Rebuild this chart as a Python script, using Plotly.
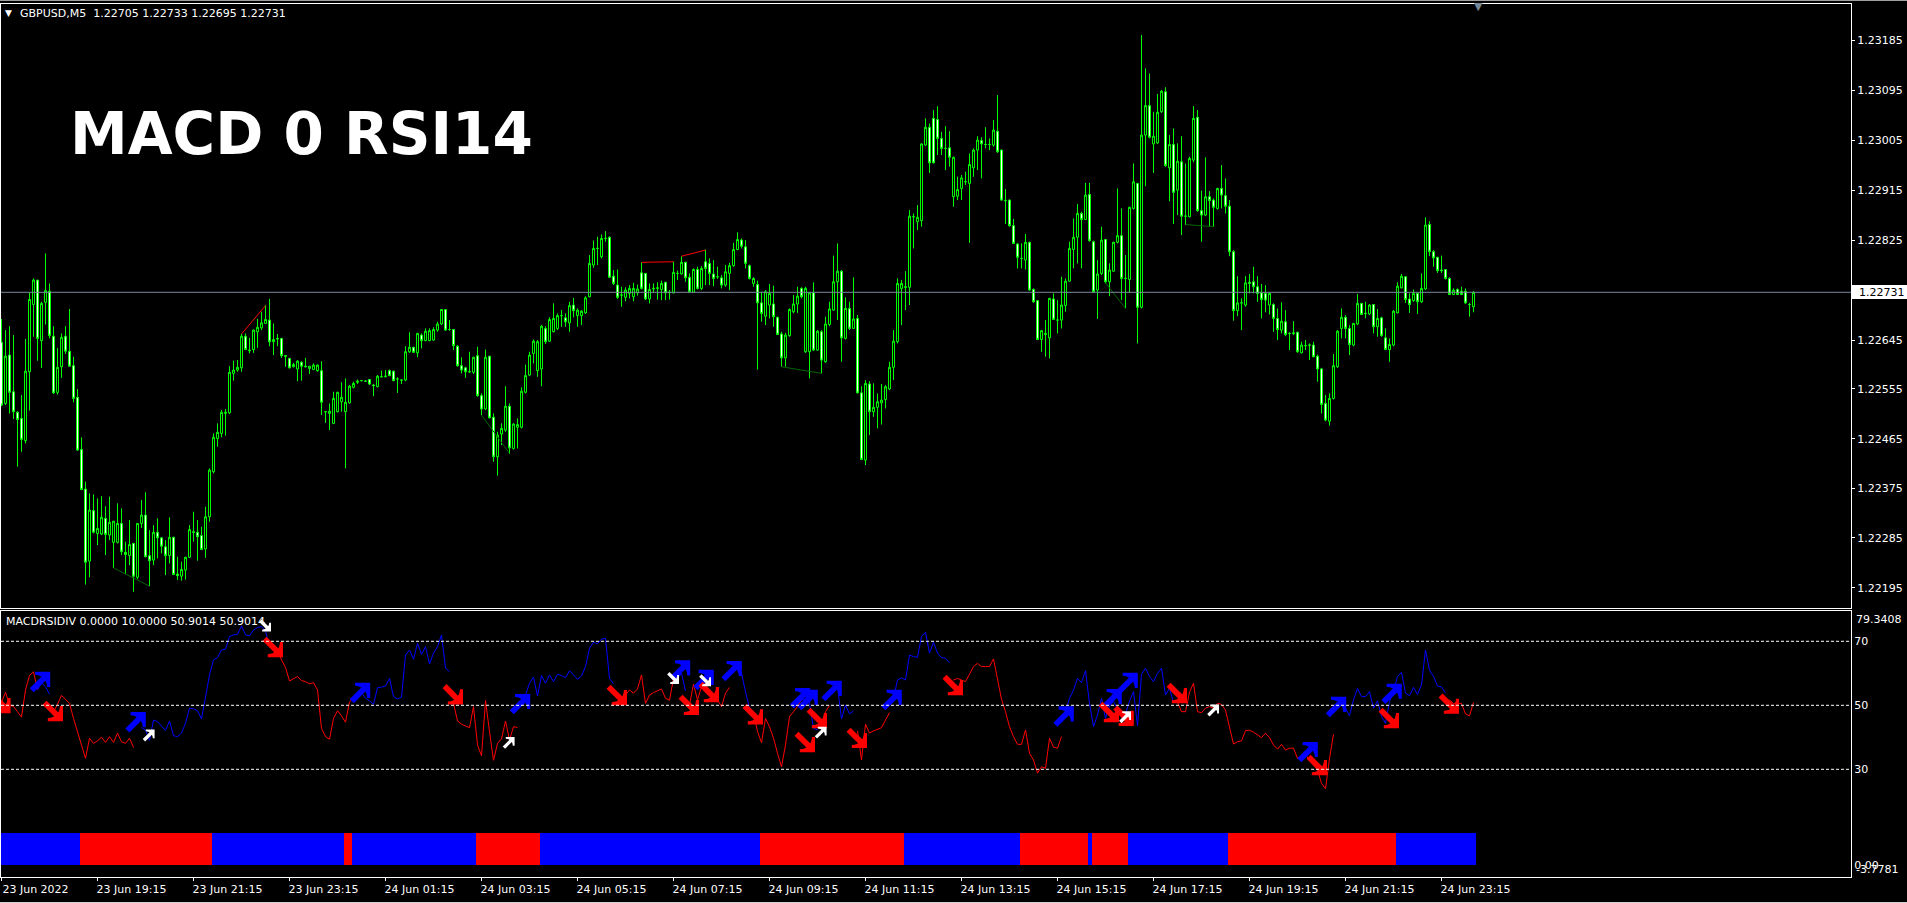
import plotly.graph_objects as go

PRICE_SCALE = 100000.0
opens = [122641,122531,122618,122552,122515,122504,122464,122588,122709,122753,
122644,122713,122733,122652,122551,122597,122652,122625,122599,122542,
122448,122377,122247,122338,122297,122296,122324,122294,122281,122281,
122315,122263,122257,122279,122218,122315,122330,122257,122249,122299,
122289,122273,122257,122290,122224,122220,122231,122254,122300,122299,
122293,122269,122327,122408,122468,122477,122513,122514,122585,122591,
122595,122652,122627,122628,122660,122667,122675,122681,122642,122648,
122648,122617,122612,122597,122593,122605,122598,122594,122592,122590,
122590,122516,122513,122495,122516,122534,122516,122532,122560,122569,
122572,122571,122574,122564,122561,122579,122579,122590,122589,122575,
122573,122573,122624,122632,122622,122654,122644,122644,122645,122663,
122674,122700,122664,122664,122634,122599,122595,122588,122587,122617,
122545,122521,122616,122506,122435,122476,122483,122526,122450,122488,
122488,122551,122582,122621,122590,122593,122666,122643,122660,122666,
122689,122685,122676,122708,122689,122689,122694,122723,122780,122810,
122795,122828,122830,122760,122744,122726,122722,122729,122723,122730,
122766,122765,122719,122737,122738,122736,122749,122731,122730,122765,
122764,122785,122758,122731,122772,122738,122786,122783,122764,122759,
122757,122744,122765,122779,122808,122825,122813,122779,122747,122745,
122712,122688,122708,122710,122686,122656,122613,122653,122696,122710,
122738,122624,122624,122730,122627,122660,122606,122673,122699,122750,
122769,122648,122702,122666,122684,122550,122429,122566,122516,122524,
122532,122538,122557,122596,122642,122738,122741,122740,122867,122858,
122860,122996,123028,123044,123042,123008,122990,122991,122903,122904,
122918,122930,122927,122955,122987,123004,122997,122997,122996,123021,
122987,122896,122897,122851,122818,122792,122789,122821,122736,122716,
122646,122655,122649,122719,122681,122681,122707,122751,122808,122830,
122873,122862,122907,122822,122735,122765,122826,122750,122769,122821,
122833,122756,122754,122882,122927,122704,123014,123067,122998,123000,
123056,123092,122955,122997,122915,122966,122868,122867,122969,123046,
122878,122870,122903,122897,122882,122918,122905,122886,122804,122698,
122712,122708,122749,122750,122741,122730,122729,122708,122709,122684,
122663,122678,122657,122658,122659,122622,122635,122636,122636,122616,
122593,122531,122499,122540,122597,122666,122686,122666,122636,122674,
122711,122693,122692,122709,122669,122685,122649,122628,122636,122694,
122739,122759,122719,122716,122729,122714,122737,122853,122804,122794,
122771,122772,122756,122727,122736,122733,122733,122709,122705]
highs = [122683,122663,122670,122654,122517,122546,122647,122730,122756,122753,
122714,122801,122747,122670,122631,122657,122670,122701,122615,122557,
122470,122390,122369,122367,122360,122364,122346,122363,122319,122351,
122342,122282,122321,122280,122315,122357,122371,122303,122312,122324,
122290,122285,122326,122291,122255,122246,122255,122312,122336,122321,
122309,122345,122414,122477,122495,122519,122521,122598,122608,122609,
122656,122657,122649,122664,122683,122696,122708,122719,122675,122656,
122649,122617,122613,122604,122609,122607,122613,122598,122603,122601,
122607,122516,122531,122552,122552,122569,122576,122564,122570,122574,
122573,122573,122575,122566,122582,122590,122591,122592,122590,122578,
122574,122634,122659,122633,122658,122657,122666,122666,122668,122678,
122700,122700,122681,122665,122636,122614,122597,122624,122615,122633,
122549,122628,122616,122513,122480,122495,122562,122531,122495,122504,
122560,122601,122624,122646,122645,122672,122670,122686,122711,122693,
122699,122693,122714,122721,122702,122699,122724,122798,122824,122831,
122835,122841,122832,122771,122772,122741,122740,122744,122748,122745,
122785,122765,122747,122747,122749,122752,122750,122735,122786,122770,
122796,122786,122765,122774,122777,122778,122808,122792,122789,122777,
122762,122780,122784,122820,122839,122828,122825,122781,122758,122752,
122732,122735,122746,122743,122687,122660,122658,122702,122726,122741,
122740,122741,122731,122749,122663,122663,122687,122714,122797,122819,
122771,122722,122714,122758,122690,122562,122573,122571,122567,122549,
122566,122564,122606,122663,122756,122753,122769,122879,122873,122888,
122999,123044,123035,123059,123066,123020,123030,123021,122975,122939,
122942,122948,122981,122990,123012,123010,123028,123008,123041,123086,
122988,122917,122898,122863,122819,122819,122836,122822,122738,122717,
122663,122681,122721,122729,122717,122759,122756,122822,122864,122890,
122876,122928,122928,122824,122789,122849,122827,122783,122822,122918,
122882,122798,122885,122963,122928,123194,123134,123125,123056,123088,
123095,123100,123014,123026,122999,123012,122963,122975,123066,123059,
122914,122974,122913,122900,122919,122960,122936,122897,122807,122760,
122720,122760,122764,122777,122760,122746,122744,122731,122711,122702,
122713,122699,122659,122679,122660,122642,122645,122639,122642,122619,
122595,122546,122549,122620,122663,122702,122690,122672,122676,122728,
122712,122714,122710,122710,122701,122687,122666,122648,122699,122749,
122764,122760,122729,122736,122730,122765,122866,122859,122807,122795,
122797,122772,122758,122738,122738,122741,122738,122712,122733]
lows = [122526,122528,122513,122503,122417,122444,122459,122518,122651,122608,
122595,122673,122648,122548,122547,122577,122620,122597,122533,122446,
122375,122205,122218,122297,122276,122294,122258,122285,122235,122279,
122258,122224,122240,122192,122215,122307,122254,122202,122240,122252,
122261,122222,122243,122222,122213,122212,122214,122253,122282,122248,
122267,122253,122318,122405,122453,122470,122473,122512,122572,122588,
122588,122627,122621,122622,122631,122663,122675,122634,122618,122634,
122613,122597,122594,122596,122571,122572,122596,122584,122591,122588,
122510,122496,122483,122494,122515,122516,122414,122531,122558,122566,
122571,122570,122564,122544,122560,122578,122578,122580,122571,122550,
122566,122571,122622,122622,122614,122630,122643,122643,122644,122660,
122672,122662,122662,122627,122597,122585,122577,122586,122584,122543,
122510,122519,122504,122426,122401,122456,122480,122440,122448,122450,
122486,122549,122580,122603,122579,122562,122638,122642,122659,122663,
122669,122669,122660,122686,122669,122672,122692,122722,122775,122780,
122792,122822,122757,122744,122719,122705,122715,122720,122715,122725,
122736,122717,122711,122730,122718,122717,122717,122718,122729,122753,
122763,122750,122730,122730,122736,122735,122744,122744,122742,122755,
122738,122741,122735,122777,122807,122810,122774,122754,122741,122592,
122678,122672,122684,122669,122654,122597,122597,122651,122693,122694,
122720,122622,122576,122626,122626,122585,122604,122670,122698,122681,
122606,122646,122663,122665,122549,122429,122420,122474,122507,122486,
122493,122522,122555,122573,122639,122672,122699,122708,122810,122843,
122849,122995,122946,122963,122978,122978,122951,122957,122885,122897,
122897,122924,122820,122939,122951,122936,122990,122987,122993,122982,
122896,122854,122849,122818,122774,122774,122772,122734,122712,122645,
122624,122615,122612,122681,122657,122666,122696,122750,122774,122783,
122774,122861,122822,122730,122683,122762,122747,122724,122768,122819,
122717,122702,122730,122880,122639,122702,122922,123008,122946,122998,
123054,122957,122895,122854,122870,122834,122852,122866,122965,122876,
122822,122868,122849,122849,122880,122882,122873,122796,122680,122688,
122663,122705,122729,122729,122714,122684,122695,122691,122660,122645,
122657,122652,122627,122654,122622,122621,122627,122609,122614,122570,
122513,122499,122491,122538,122595,122648,122648,122618,122634,122672,
122690,122684,122690,122657,122651,122651,122627,122606,122634,122693,
122738,122712,122694,122714,122692,122712,122735,122796,122777,122766,
122766,122754,122726,122726,122726,122726,122710,122687,122695]
closes = [122528,122616,122551,122516,122502,122466,122589,122718,122753,122648,
122711,122734,122653,122550,122596,122650,122625,122598,122540,122447,
122376,122245,122339,122299,122306,122326,122295,122317,122319,122315,
122264,122259,122277,122220,122315,122330,122255,122248,122299,122289,
122274,122257,122290,122223,122221,122232,122254,122304,122299,122291,
122268,122327,122411,122470,122479,122515,122515,122587,122591,122596,
122652,122628,122626,122663,122668,122676,122682,122642,122646,122647,
122617,122616,122595,122601,122607,122598,122597,122598,122600,122600,
122533,122516,122517,122540,122551,122542,122533,122562,122567,122571,
122572,122571,122566,122563,122580,122579,122580,122581,122572,122575,
122573,122624,122632,122623,122657,122644,122661,122662,122664,122674,
122700,122663,122664,122635,122599,122591,122588,122588,122614,122545,
122521,122614,122505,122435,122474,122486,122526,122451,122494,122493,
122553,122581,122618,122643,122642,122670,122642,122682,122684,122689,
122689,122678,122707,122698,122699,122697,122721,122783,122810,122810,
122828,122828,122758,122747,122722,122726,122735,122738,122738,122737,
122738,122719,122736,122738,122739,122747,122730,122731,122767,122765,
122785,122757,122732,122772,122738,122774,122774,122765,122756,122759,
122744,122768,122779,122808,122826,122814,122783,122756,122756,122712,
122693,122732,122729,122687,122655,122613,122654,122700,122710,122724,
122723,122738,122730,122627,122661,122609,122674,122701,122750,122769,
122649,122702,122666,122683,122550,122430,122567,122516,122524,122534,
122537,122561,122596,122643,122747,122747,122740,122868,122867,122866,
122998,123028,122964,122964,123008,122990,122990,122974,122974,122916,
122937,122930,122961,122987,123005,122998,122997,122997,123023,122984,
122897,122896,122851,122819,122794,122792,122821,122735,122714,122646,
122662,122657,122720,122682,122681,122708,122751,122810,122830,122873,
122862,122906,122824,122732,122764,122825,122750,122771,122821,122833,
122756,122756,122884,122930,122704,123014,123067,123010,123012,123055,
123093,122959,122997,122911,122967,122868,122868,122972,123044,122878,
122870,122903,122896,122884,122918,122906,122886,122804,122698,122712,
122712,122748,122747,122741,122729,122718,122717,122729,122684,122664,
122679,122655,122657,122657,122624,122636,122635,122636,122615,122593,
122529,122501,122540,122599,122661,122686,122666,122637,122675,122711,
122691,122693,122708,122669,122684,122653,122628,122637,122697,122742,
122760,122718,122709,122729,122714,122738,122852,122804,122793,122770,
122770,122756,122727,122735,122727,122727,122712,122709,122731]
rsi = [50.9,54.1,50.1,49.6,48.0,46.3,54.8,59.3,60.5,54.8,
57,55.8,53.5,48,50.3,53.1,52,50.6,45.9,41.8,
38.1,33.4,39.7,38.1,38.9,40,38.4,40.2,38.4,41.3,
38.6,38.1,39.7,36.8,None,43,42.3,39,45.4,44.9,
43.6,42.1,45.1,40.5,40.2,41.3,44.4,49.1,48.9,48.3,
45.7,52.2,59.5,64.2,64.9,67.3,67.5,71.5,72,72.2,
74.8,72,71.7,73.5,74.3,74.6,73.2,68.3,67.8,67.3,
64.2,61.8,57.6,58.4,59,57.7,57.4,56.7,57.1,54.8,
42.8,40.2,39.4,45.9,48.3,46.7,44.7,51.1,52.2,53.2,
54,52.2,51.4,50.3,55.5,55.7,56,58.4,52.7,52,
52.5,65.7,67.3,64.4,69.4,65.9,68.3,62.9,66.3,68.3,
72,61.6,60.5,50.6,45.1,44.1,43.5,43,49.6,37.6,
34.2,51.5,41.8,32.8,38.1,39.5,45.1,39.2,43.3,43.1,
None,53.2,56.9,58.8,52.9,59.3,56.9,59.5,57.4,59.7,
59.3,58.6,60.8,59.5,58.1,59.2,62.1,67.8,69.7,69.2,
70.7,70.9,58.4,56.7,None,51.7,53.2,54.8,53.8,55.1,
59.5,50.6,53.2,54,54.5,55.1,52.2,51.6,58.4,58.5,
60,54.5,50.1,56.6,51.7,55.8,55.3,53.8,52.7,51.7,
49.6,53.8,55.6,None,60.5,60,54.3,49.1,48,41.8,
38.3,45.9,43.3,39.7,35,30.8,37.6,46.5,48,49.6,
51.7,52,50.6,42.8,42.3,44.4,48,49.9,None,55.8,
45.7,50.1,47.3,48.2,42,32.9,44.1,41.3,42,42.5,
43,45.4,47.7,52.2,57.9,58.6,57.9,65.7,65.2,65,
71.5,72.8,66.3,69.7,66.3,64.9,64.7,63.3,57.9,58.4,
57.9,57.4,59.7,62.1,63.1,62.1,62.1,62.1,64.5,57.9,
51.9,48,43.3,40.2,37.8,37.8,42.3,35,32.9,28.8,
30.8,30.3,39.7,36.9,36.6,40.2,48,52.2,54.8,58.4,
57.1,60.8,50.6,43.3,47,52.2,45.9,49.7,51.3,48.7,
46.7,47.2,51.3,54.3,43.6,59.7,61.6,59,57.4,60,
61.6,53.2,55.3,50.9,51.1,48,48,54.1,56.9,48,
47.7,49.1,49.6,49.1,50.6,50.3,48.5,42.8,37.9,38.6,
38.9,42.1,42.2,41.6,40.7,39.9,41.3,39.9,37.6,36.3,
37.8,36,36.6,36.6,33.4,34,34.5,32.9,31.4,29.8,
25.6,23.9,33.4,40.9,None,50.1,49.1,46.7,51.7,55.3,
52.7,52.7,54.3,49.1,51.4,46.5,44.4,51.2,54.3,59,
60.3,53.8,53,55.6,53.4,56.4,67.3,61,59,56,
55.8,53.8,51.7,50.6,50.6,50.6,47.3,46.7,50.9]
assert len(opens) == len(highs) == len(lows) == len(closes) == len(rsi) == 369

red_runs = [(0,9),(13,33),(68,89),(113,129),(155,168),(172,182),(188,200),(205,207),(214,222),(238,265),(294,333),(362,368)]
blue_runs = [(9,12),(35,67),(89,112),(131,153),(168,171),(184,187),(200,204),(209,213),(223,237),(266,293),(335,361)]

band_starts = [0,20,53,86,88,119,135,190,226,255,272,273,282,307,349,369]
band_colors = ["#0000ff","#ff0000","#0000ff","#ff0000","#0000ff","#ff0000","#0000ff","#ff0000","#0000ff","#ff0000","#0000ff","#ff0000","#0000ff","#ff0000","#0000ff"]
band_height = 10

blue_up_x = [9.8,33.7,89.8,129.8,169.8,175.7,182.7,199.8,201.7,207.7,222.7,265.7,277.7,281.7,326.7,333.8,347.7]
blue_up_y = [57.5,44.9,54.1,50.6,61.1,58.1,60.9,52.4,51.9,54.7,51.9,46.7,52.1,57.2,35.6,49.7,53.8]
red_dn_x = [-0.1,13,68,113,154,172,177,188,201,204,214,238,277,280.7,294,329,347,362]
red_dn_y = [50.5,48,68,53.2,53,49.9,53.9,47,38.3,45.8,39.6,56.1,47.7,46.5,53.6,31.1,45.8,50.3]
white_up_x = [36.9,126.9,204.9,281,303]
white_up_y = [40.7,38.4,41.6,46.4,48.5]
white_dn_x = [66,168,176]
white_dn_y = [74.8,58.4,57.7]

div_red = [([60,66],[122656,122707]),([160,168],[122785,122786]),([170,176],[122796,122807])]
div_green = [([28,37],[122235,122202]),([120,127],[122510,122441]),([195,205],[122597,122585]),([276,281],[122748,122702]),([296,303],[122853,122849])]

price_tick_text = ["1.23185","1.23095","1.23005","1.22915","1.22825","1.22645","1.22555","1.22465","1.22375","1.22285","1.22195"]
price_tick_vals = [1.23185,1.23095,1.23005,1.22915,1.22825,1.22645,1.22557,1.22467,1.22378,1.22289,1.22199]
rsi_levels = [70,50,30]
rsi_ticks = [70,50,30,0]
rsi_tick_text = ["70","50","30","0.00"]
time_tick_bars = [0,24,48,72,96,120,144,168,192,216,240,264,288,312,336,360]
time_tick_text = ["23 Jun 2022","23 Jun 19:15","23 Jun 21:15","23 Jun 23:15","24 Jun 01:15","24 Jun 03:15",
                  "24 Jun 05:15","24 Jun 07:15","24 Jun 09:15","24 Jun 11:15","24 Jun 13:15","24 Jun 15:15",
                  "24 Jun 17:15","24 Jun 19:15","24 Jun 21:15","24 Jun 23:15"]
last_price = 1.22731

W, H = 1907, 903
FONT = "DejaVu Sans"
PX_PER_BAR = 4.0
PX_PER_RSI = 3.2
def px(x): return x / W
def py(y): return 1 - y / H

bars = list(range(len(opens)))
fig = go.Figure()
fig.add_trace(go.Candlestick(
    x=bars, open=[v/PRICE_SCALE for v in opens], high=[v/PRICE_SCALE for v in highs],
    low=[v/PRICE_SCALE for v in lows], close=[v/PRICE_SCALE for v in closes],
    increasing=dict(line=dict(color="#00ff00", width=1), fillcolor="#000000"),
    decreasing=dict(line=dict(color="#00ff00", width=1), fillcolor="#ffffff"),
    whiskerwidth=0, xaxis="x", yaxis="y", showlegend=False, hoverinfo="skip"))
for xs, ys in div_red:
    fig.add_trace(go.Scatter(x=xs, y=[v/PRICE_SCALE for v in ys], mode="lines", line=dict(color="#ff0000", width=1), xaxis="x", yaxis="y", showlegend=False, hoverinfo="skip"))
for xs, ys in div_green:
    fig.add_trace(go.Scatter(x=xs, y=[v/PRICE_SCALE for v in ys], mode="lines", line=dict(color="#006400", width=1), xaxis="x", yaxis="y", showlegend=False, hoverinfo="skip"))

fig.add_trace(go.Bar(
    x=[(band_starts[k] + band_starts[k+1] - 1) / 2 for k in range(len(band_colors))],
    width=[band_starts[k+1] - band_starts[k] for k in range(len(band_colors))],
    y=[band_height] * len(band_colors), marker=dict(color=band_colors, line=dict(width=0)),
    xaxis="x2", yaxis="y2", showlegend=False, hoverinfo="skip"))

def run_values(runs):
    vals = [None] * len(rsi)
    for a, b in runs:
        for i in range(a, b + 1):
            vals[i] = rsi[i]
    return vals

fig.add_trace(go.Scatter(x=bars, y=run_values(red_runs), mode="lines", line=dict(color="#ff0000", width=1), connectgaps=False, xaxis="x2", yaxis="y2", showlegend=False, hoverinfo="skip"))
fig.add_trace(go.Scatter(x=bars, y=run_values(blue_runs), mode="lines", line=dict(color="#0000ff", width=1), connectgaps=False, xaxis="x2", yaxis="y2", showlegend=False, hoverinfo="skip"))

def arrows(xs, ys, up, color, box):
    """Each arrow is a wide head whose tip sits near a corner of the box, plus a thick diagonal tail."""
    half = box / 2.0 - box * 0.08
    dx = half / PX_PER_BAR
    dy = (half if up else -half) / PX_PER_RSI
    head_x = [x + dx for x in xs]
    head_y = [y + dy for y in ys]
    fig.add_trace(go.Scatter(x=head_x, y=head_y, mode="markers",
                             marker=dict(symbol="arrow-wide", size=box * 0.72, color=color, angle=45 if up else 135,
                                         line=dict(width=box * 0.16, color=color)),
                             xaxis="x2", yaxis="y2", showlegend=False, hoverinfo="skip"))
    tail_shift = box * 0.14
    tail_x = [x - tail_shift / PX_PER_BAR for x in xs]
    tail_y = [y + (-tail_shift if up else tail_shift) / PX_PER_RSI for y in ys]
    fig.add_trace(go.Scatter(x=tail_x, y=tail_y, mode="markers",
                             marker=dict(symbol="line-ne" if up else "line-nw", size=box * 0.66, color=color, line=dict(width=box * 0.30, color=color)),
                             xaxis="x2", yaxis="y2", showlegend=False, hoverinfo="skip"))

arrows(blue_up_x, blue_up_y, True, "#0000ff", 19)
arrows(red_dn_x, red_dn_y, False, "#ff0000", 19)
arrows(white_up_x, white_up_y, True, "#ffffff", 11)
arrows(white_dn_x, white_dn_y, False, "#ffffff", 11)

left, right = 1.0, 1851.0
xrange_ = [(left - 1.5) / 4, (right - 1.5) / 4]
main_top, main_bot = 3.5, 608.0
sub_top, sub_bot = 611.4, 877.4
price_hi = last_price + (292.3 - main_top) * 0.000018
price_lo = last_price - (main_bot - 292.3) * 0.000018

axis_common = dict(showgrid=False, zeroline=False, showline=True, linecolor="#ffffff", linewidth=1, mirror=True)
shapes = [
    dict(type="line", xref="x", yref="y", x0=xrange_[0], x1=xrange_[1], y0=last_price, y1=last_price, line=dict(color="#778899", width=1), layer="above"),
    dict(type="line", xref="paper", yref="paper", x0=0, x1=1, y0=py(0.5), y1=py(0.5), line=dict(color="#a0a0a0", width=1)),
    dict(type="line", xref="paper", yref="paper", x0=0, x1=1, y0=py(902.5), y1=py(902.5), line=dict(color="#d0d0d0", width=1)),
    dict(type="rect", xref="paper", yref="paper", x0=px(1852), x1=1, y0=py(285), y1=py(299), fillcolor="#ffffff", line=dict(width=0)),
]
for lv in rsi_levels:
    shapes.append(dict(type="line", xref="x2", yref="y2", x0=xrange_[0], x1=xrange_[1], y0=lv, y1=lv,
                       line=dict(color="#ffffff", width=1, dash="3px,2px"), layer="above"))

def label(text, x, y, color="#ffffff", size=11, anchor="left", bold=False, family=FONT):
    return dict(text=("<b>%s</b>" % text) if bold else text, xref="paper", yref="paper", x=px(x), y=py(y),
                xanchor=anchor, yanchor="middle", showarrow=False, font=dict(color=color, size=size, family=family))

annotations = [
    label("MACD 0 RSI14", 68, 133.5, size=58, bold=True),
    label("GBPUSD,M5  1.22705 1.22733 1.22695 1.22731", 18, 13.5),
    label("\u25bc", 8, 13, size=9, anchor="center"),
    label("\u25bc", 1478, 6, color="#778899", size=11, anchor="center"),
    label("MACDRSIDIV 0.0000 10.0000 50.9014 50.9014", 4, 621.7),
    label("1.22731", 1857, 292.5, color="#000000"),
    label("79.3408", 1854, 619.7),
    label("-3.7781", 1854, 869.5),
]

fig.update_layout(
    width=W, height=H, autosize=False, margin=dict(l=0, r=0, t=0, b=0),
    paper_bgcolor="#000000", plot_bgcolor="#000000", showlegend=False, bargap=0,
    font=dict(family=FONT, size=11, color="#ffffff"), shapes=shapes, annotations=annotations,
    xaxis=dict(domain=[px(left), px(right)], range=xrange_, anchor="y", showticklabels=False, ticks="", rangeslider=dict(visible=False), **axis_common),
    yaxis=dict(domain=[py(main_bot), py(main_top)], range=[price_lo, price_hi], anchor="x", side="right",
               tickmode="array", tickvals=price_tick_vals, ticktext=price_tick_text,
               ticks="outside", ticklen=3, tickcolor="#ffffff", tickfont=dict(size=11, color="#ffffff", family=FONT), **axis_common),
    xaxis2=dict(domain=[px(left), px(right)], range=xrange_, anchor="y2", tickmode="array", tickvals=time_tick_bars, ticktext=time_tick_text,
                ticks="outside", ticklen=3, tickcolor="#ffffff", ticklabelshift=34, ticklabelstandoff=-2, tickangle=0, tickfont=dict(size=11, color="#ffffff", family=FONT), **axis_common),
    yaxis2=dict(domain=[py(sub_bot), py(sub_top)], range=[-3.7781, 79.3408], anchor="x2", side="right", tickmode="array",
                tickvals=rsi_ticks, ticktext=rsi_tick_text, ticks="", tickfont=dict(size=11, color="#ffffff", family=FONT), **axis_common),
)

fig.write_html("out.html", config=dict(displayModeBar=False),
               post_script="document.body.style.margin='0';document.body.style.overflow='hidden';")
